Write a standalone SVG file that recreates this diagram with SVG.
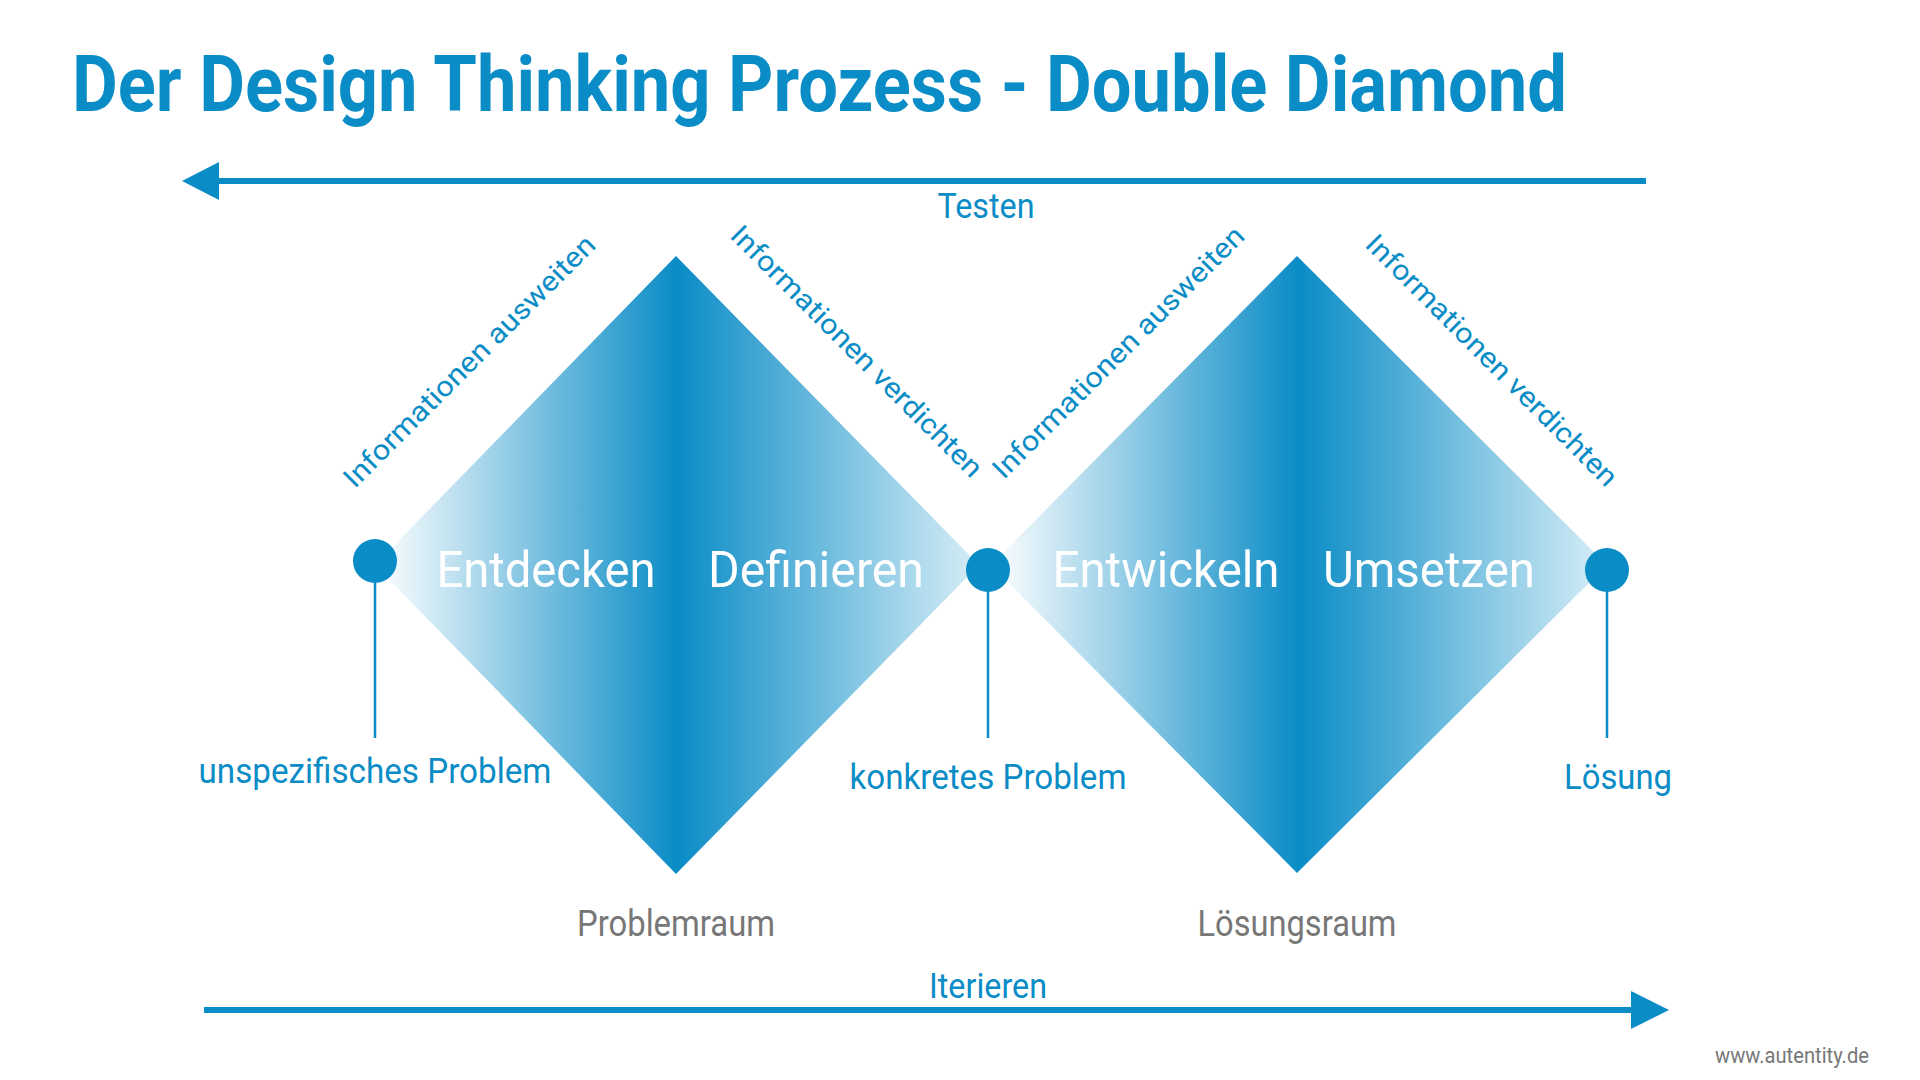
<svg xmlns="http://www.w3.org/2000/svg" width="1920" height="1080" viewBox="0 0 1920 1080">
<style>
text{font-family:Roboto,"Liberation Sans",sans-serif}
.b{fill:#0a8cc6}
.w{fill:#fff;font-size:50px}
.g{fill:#777;font-size:37px}
.l{fill:#0a8cc6;font-size:35px}
.r{fill:#0a8cc6;font-size:28px}
.ln{stroke:#0a8cc6;stroke-width:2.5}
</style>
<defs>
<linearGradient id="gr" x1="0" x2="1" y1="0" y2="0">
<stop offset="0" stop-color="#fff"/>
<stop offset="0.5" stop-color="#0a8cc6"/>
<stop offset="1" stop-color="#d8eef7"/>
</linearGradient>
</defs>
<rect width="1920" height="1080" fill="#fff"/>
<text x="72" y="111" class="b" font-size="78" font-weight="bold" textLength="1495" lengthAdjust="spacingAndGlyphs">Der Design Thinking Prozess - Double Diamond</text>
<g id="connectors">
<line x1="215" y1="181" x2="1646" y2="181" stroke="#0a8cc6" stroke-width="6"/>
<polygon points="182,181 219,162 219,200" class="b"/>
<line x1="204" y1="1010" x2="1635" y2="1010" stroke="#0a8cc6" stroke-width="6"/>
<polygon points="1669,1010 1631,991 1631,1029" class="b"/>
<line x1="375" y1="561" x2="375" y2="738" class="ln"/>
<line x1="988" y1="570" x2="988" y2="738" class="ln"/>
<line x1="1607" y1="570" x2="1607" y2="738" class="ln"/>
</g>
<text x="986" y="218" class="l" font-size="32" text-anchor="middle" textLength="97" lengthAdjust="spacingAndGlyphs">Testen</text>
<text x="988" y="998" class="l" font-size="32" text-anchor="middle" textLength="118" lengthAdjust="spacingAndGlyphs">Iterieren</text>
<g id="diamond1">
<polygon points="676,256 979,565 676,874 375,565" fill="url(#gr)"/>
<text x="546" y="587" class="w" text-anchor="middle" textLength="219" lengthAdjust="spacingAndGlyphs">Entdecken</text>
<text x="816" y="587" class="w" text-anchor="middle" textLength="216" lengthAdjust="spacingAndGlyphs">Definieren</text>
<text x="676" y="936" class="g" text-anchor="middle" textLength="198" lengthAdjust="spacingAndGlyphs">Problemraum</text>
<text transform="translate(476,368) rotate(-45)" class="r" text-anchor="middle" textLength="343" lengthAdjust="spacingAndGlyphs">Informationen ausweiten</text>
<text transform="translate(850,358) rotate(45)" class="r" text-anchor="middle" textLength="343" lengthAdjust="spacingAndGlyphs">Informationen verdichten</text>
</g>
<g id="diamond2">
<polygon points="1297,256 1607,565 1297,873 991,565" fill="url(#gr)"/>
<text x="1166" y="587" class="w" text-anchor="middle" textLength="227" lengthAdjust="spacingAndGlyphs">Entwickeln</text>
<text x="1429" y="587" class="w" text-anchor="middle" textLength="212" lengthAdjust="spacingAndGlyphs">Umsetzen</text>
<text x="1297" y="936" class="g" text-anchor="middle" textLength="199" lengthAdjust="spacingAndGlyphs">Lösungsraum</text>
<text transform="translate(1125,359) rotate(-45)" class="r" text-anchor="middle" textLength="343" lengthAdjust="spacingAndGlyphs">Informationen ausweiten</text>
<text transform="translate(1485,367) rotate(45)" class="r" text-anchor="middle" textLength="343" lengthAdjust="spacingAndGlyphs">Informationen verdichten</text>
</g>
<g id="p1"><circle cx="375" cy="561" r="22" class="b"/>
<text x="375" y="783" class="l" text-anchor="middle" textLength="353" lengthAdjust="spacingAndGlyphs">unspezifisches Problem</text></g>
<g id="p2"><circle cx="988" cy="570" r="22" class="b"/>
<text x="988" y="789" class="l" text-anchor="middle" textLength="277" lengthAdjust="spacingAndGlyphs">konkretes Problem</text></g>
<g id="p3"><circle cx="1607" cy="570" r="22" class="b"/>
<text x="1618" y="789" class="l" text-anchor="middle" textLength="108" lengthAdjust="spacingAndGlyphs">Lösung</text></g>
<text x="1869" y="1063" fill="#777" font-size="22" text-anchor="end" textLength="154" lengthAdjust="spacingAndGlyphs">www.autentity.de</text>
</svg>
